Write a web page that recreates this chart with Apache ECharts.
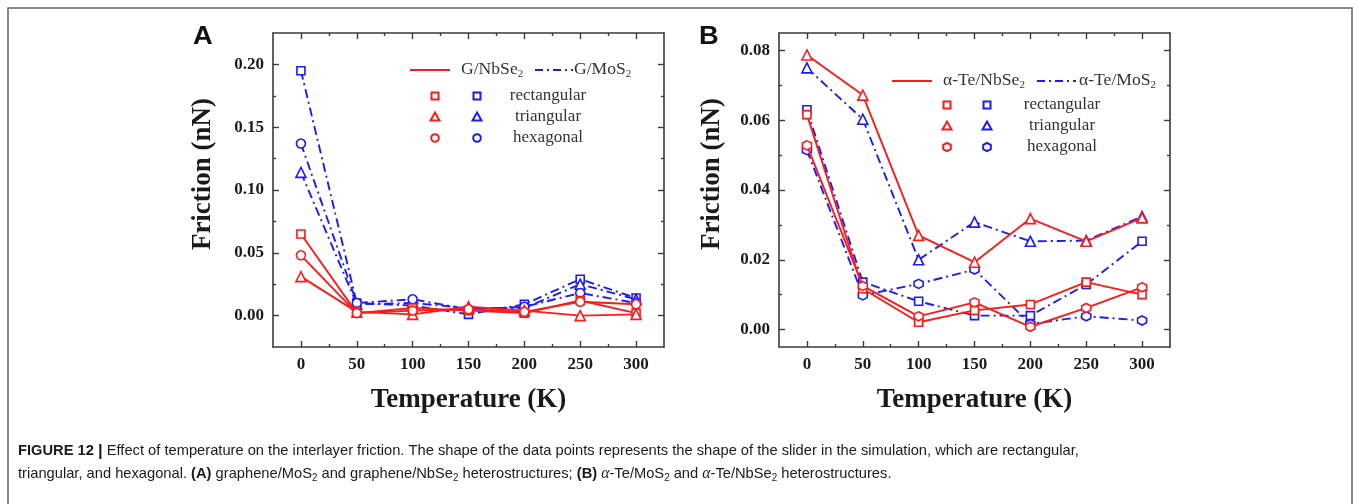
<!DOCTYPE html>
<html><head><meta charset="utf-8">
<script src="https://cdn.jsdelivr.net/npm/echarts@6/dist/echarts.min.js"></script>
<style>html,body{margin:0;padding:0;background:#fff}#c{width:1356px;height:504px}</style>
</head><body><div id="c"></div>
<script>
// ---------- data ----------
const temps = [0, 50, 100, 150, 200, 250, 300];
// Panel A: graphene heterostructures
const aNbSe2Rect = [0.065, 0.002, 0.006, 0.004, 0.002, 0.012, 0.002];
const aNbSe2Tri  = [0.031, 0.003, 0.001, 0.007, 0.004, 0.000, 0.001];
const aNbSe2Hex  = [0.048, 0.002, 0.004, 0.005, 0.003, 0.011, 0.009];
const aMoS2Rect  = [0.195, 0.010, 0.008, 0.001, 0.009, 0.029, 0.014];
const aMoS2Tri   = [0.114, 0.009, 0.010, 0.006, 0.006, 0.025, 0.013];
const aMoS2Hex   = [0.137, 0.010, 0.013, 0.005, 0.007, 0.018, 0.010];
// Panel B: alpha-Te heterostructures
const bNbSe2Rect = [0.0616, 0.0117, 0.0021, 0.0055, 0.0072, 0.0136, 0.0100];
const bNbSe2Tri  = [0.0787, 0.0672, 0.0270, 0.0193, 0.0318, 0.0253, 0.0320];
const bNbSe2Hex  = [0.0528, 0.0125, 0.0038, 0.0078, 0.0008, 0.0062, 0.0121];
const bMoS2Rect  = [0.0630, 0.0136, 0.0081, 0.0040, 0.0040, 0.0129, 0.0253];
const bMoS2Tri   = [0.0750, 0.0603, 0.0200, 0.0308, 0.0253, 0.0255, 0.0324];
const bMoS2Hex   = [0.0514, 0.0098, 0.0131, 0.0172, 0.0016, 0.0038, 0.0026];
// ticks
const xMajor = [0, 50, 100, 150, 200, 250, 300];
const xMinor = [25, 75, 125, 175, 225, 275];
const aYMajor = [0, 0.05, 0.10, 0.15, 0.20];
const aYMinor = [0.025, 0.075, 0.125, 0.175];
const bYMajor = [0, 0.02, 0.04, 0.06, 0.08];
const bYMinor = [0.01, 0.03, 0.05, 0.07];

// ---------- styling ----------
const RED = '#ff1a1a', BLUE = '#1a1aff';
const AXC = '#3a3a3a';
const SERIF = '"Liberation Serif","Times New Roman",serif';
const SANS = '"Liberation Sans",Arial,sans-serif';
const DASHDOT = [9, 4, 2, 4];
const HEX = 'path://M5,0 L10,2.9 L10,8.7 L5,11.6 L0,8.7 L0,2.9 Z';

function axisSet(dim, grid, min, max, majors, minors, fmt, name, nameGap) {
  const pos = dim === 'x' ? ['bottom', 'top'] : ['left', 'right'];
  const mk = (p, main, ticks, len, label) => ({
    type: 'value', gridIndex: grid, position: p, min: min, max: max,
    splitLine: {show: false},
    axisLine: {show: main, onZero: false, lineStyle: {color: AXC, width: 1.6}},
    axisTick: {show: true, inside: true, length: len, customValues: ticks, lineStyle: {color: AXC, width: 1.4}},
    axisLabel: label ? {show: true, customValues: majors, formatter: fmt, margin: 9,
      fontFamily: SERIF, fontWeight: 'bold', fontSize: 17, color: '#1a1a1a'} : {show: false},
    name: label ? name : '', nameLocation: 'middle', nameGap: nameGap,
    nameRotate: dim === 'y' ? 90 : 0,
    nameTextStyle: {fontFamily: SERIF, fontWeight: 'bold', fontSize: 27, color: '#1a1a1a',
      padding: dim === 'y' ? [0, 0, 0, 32] : 0}
  });
  return [mk(pos[0], true, majors, 6, true), mk(pos[0], false, minors, 3, false),
          mk(pos[1], true, majors, 6, false), mk(pos[1], false, minors, 3, false)];
}

const xAxes = [].concat(
  axisSet('x', 0, -25, 325, xMajor, xMinor, v => String(v), 'Temperature (K)', 40),
  axisSet('x', 1, -25, 325, xMajor, xMinor, v => String(v), 'Temperature (K)', 40));
const yAxes = [].concat(
  axisSet('y', 0, -0.025, 0.225, aYMajor, aYMinor, v => v.toFixed(2), 'Friction (nN)', 56),
  axisSet('y', 1, -0.005, 0.085, bYMajor, bYMinor, v => v.toFixed(2), 'Friction (nN)', 53));

function ser(vals, color, dashed, symbol, size, axisIdx) {
  return {
    type: 'line', xAxisIndex: axisIdx, yAxisIndex: axisIdx,
    data: temps.map((t, i) => [t, vals[i]]),
    symbol: symbol, symbolSize: size, showSymbol: true,
    lineStyle: {color: color, width: 1.9, type: dashed ? DASHDOT : 'solid'},
    itemStyle: {color: '#fff', borderColor: color, borderWidth: 1.6},
    z: dashed ? 2 : 3
  };
}

const series = [
  ser(aMoS2Rect, BLUE, true, 'rect', 8, 0),
  ser(aMoS2Tri, BLUE, true, 'triangle', 10, 0),
  ser(aMoS2Hex, BLUE, true, 'circle', 9, 0),
  ser(aNbSe2Rect, RED, false, 'rect', 8, 0),
  ser(aNbSe2Tri, RED, false, 'triangle', 10, 0),
  ser(aNbSe2Hex, RED, false, 'circle', 9, 0),
  ser(bMoS2Rect, BLUE, true, 'rect', 8, 4),
  ser(bMoS2Tri, BLUE, true, 'triangle', 10, 4),
  ser(bMoS2Hex, BLUE, true, HEX, 9, 4),
  ser(bNbSe2Rect, RED, false, 'rect', 8, 4),
  ser(bNbSe2Tri, RED, false, 'triangle', 10, 4),
  ser(bNbSe2Hex, RED, false, HEX, 9, 4)
];

// ---------- legend & annotations (graphic) ----------
const subRich = {s: {fontSize: 10, fontFamily: SERIF, fill: '#333', lineHeight: 10, verticalAlign: 'bottom'}};
function legText(x, y, txt, align) {
  return {type: 'text', x: x, y: y, style: {text: txt, rich: subRich, fontFamily: SERIF, fontSize: 16, fill: '#333',
    align: align || 'left', verticalAlign: 'middle', lineHeight: 18}, scaleX: 1.1, silent: true};
}
function legMarker(shape, cx, cy, color) {
  const s = 3.5;
  if (shape === 'rect') return {type: 'rect', shape: {x: cx - s, y: cy - s, width: 2 * s, height: 2 * s}, style: {fill: '#fff', stroke: color, lineWidth: 2}};
  if (shape === 'tri') return {type: 'polygon', shape: {points: [[cx, cy - 4.5], [cx + 4.5, cy + 3.5], [cx - 4.5, cy + 3.5]]}, style: {fill: '#fff', stroke: color, lineWidth: 2}};
  if (shape === 'hex') return {type: 'polygon', shape: {points: [[cx, cy - 4.2], [cx + 3.8, cy - 2.1], [cx + 3.8, cy + 2.1], [cx, cy + 4.2], [cx - 3.8, cy + 2.1], [cx - 3.8, cy - 2.1]]}, style: {fill: '#fff', stroke: color, lineWidth: 2}};
  return {type: 'circle', shape: {cx: cx, cy: cy, r: 3.8}, style: {fill: '#fff', stroke: color, lineWidth: 2}};
}
function legend(o) {
  const els = [];
  els.push({type: 'line', shape: {x1: o.l1[0], y1: o.ly, x2: o.l1[1], y2: o.ly}, style: {stroke: RED, lineWidth: 2}});
  els.push(legText(o.t1x, o.ly, o.t1));
  els.push({type: 'line', shape: {x1: o.l2[0], y1: o.ly, x2: o.l2[1], y2: o.ly}, style: {stroke: BLUE, lineWidth: 2.2, lineDash: [8, 4, 2, 4]}});
  els.push(legText(o.t2x, o.ly, o.t2));
  const shapes = ['rect', 'tri', o.hex ? 'hex' : 'circ'];
  const names = ['rectangular', 'triangular', 'hexagonal'];
  for (let i = 0; i < 3; i++) {
    els.push(legMarker(shapes[i], o.mx[0], o.rows[i], RED));
    els.push(legMarker(shapes[i], o.mx[1], o.rows[i], BLUE));
    const t = legText(o.tcx, o.rows[i], names[i], 'center');
    t.scaleX = 1; t.style.fontSize = 17;
    els.push(t);
  }
  return els;
}

// caption measurement for horizontal scaling
const meas = document.createElement('canvas').getContext('2d');
meas.font = '15px "Liberation Sans"';
const cap1 = 'FIGURE 12 | Effect of temperature on the interlayer friction. The shape of the data points represents the shape of the slider in the simulation, which are rectangular,';
const capScale = 1062 / (meas.measureText(cap1).width + 2);
const capRich = {
  b: {fontFamily: SANS, fontWeight: 'bold', fontSize: 15, fill: '#1a1a1a'},
  bar: {fontFamily: SANS, fontWeight: 'bold', fontSize: 17, fill: '#1a1a1a'},
  i: {fontFamily: SERIF, fontStyle: 'italic', fontSize: 16, fill: '#1a1a1a'},
  s: {fontFamily: SANS, fontSize: 10, fill: '#1a1a1a', lineHeight: 10, verticalAlign: 'bottom'}
};
function capLine(y, txt) {
  return {type: 'text', x: 18, y: y, scaleX: capScale, style: {text: txt, rich: capRich, fontFamily: SANS, fontSize: 15, fill: '#1a1a1a', verticalAlign: 'middle', lineHeight: 18}, silent: true};
}

const graphic = [].concat(
  [{type: 'rect', shape: {x: 8, y: 8, width: 1344, height: 520}, style: {fill: 'none', stroke: '#666', lineWidth: 1.5}, silent: true}],
  [{type: 'text', x: 193, y: 37, style: {text: 'A', fontFamily: SANS, fontWeight: 'bold', fontSize: 26, fill: '#111', verticalAlign: 'middle'}, scaleX: 1.05},
   {type: 'text', x: 699, y: 37, style: {text: 'B', fontFamily: SANS, fontWeight: 'bold', fontSize: 26, fill: '#111', verticalAlign: 'middle'}, scaleX: 1.05}],
  legend({ly: 70, l1: [410, 450], t1x: 461, t1: 'G/NbSe{s|2}', l2: [535, 573], t2x: 574, t2: 'G/MoS{s|2}',
          mx: [435, 477], rows: [96, 117, 138], tcx: 548, hex: false}),
  legend({ly: 81, l1: [892, 932], t1x: 943, t1: 'α-Te/NbSe{s|2}', l2: [1037, 1076], t2x: 1079, t2: 'α-Te/MoS{s|2}',
          mx: [947, 987], rows: [105, 126, 147], tcx: 1062, hex: true}),
  [capLine(451, '{b|FIGURE 12} {bar||} Effect of temperature on the interlayer friction. The shape of the data points represents the shape of the slider in the simulation, which are rectangular,'),
   capLine(474, 'triangular, and hexagonal. {b|(A)} graphene/MoS{s|2} and graphene/NbSe{s|2} heterostructures; {b|(B)} {i|α}-Te/MoS{s|2} and {i|α}-Te/NbSe{s|2} heterostructures.')]
);

const chart = echarts.init(document.getElementById('c'), null, {renderer: 'canvas'});
chart.setOption({
  animation: false,
  backgroundColor: '#fff',
  grid: [{left: 273, top: 33, width: 391, height: 314}, {left: 779, top: 33, width: 391, height: 314}],
  xAxis: xAxes,
  yAxis: yAxes,
  series: series,
  graphic: graphic
});
</script></body></html>
